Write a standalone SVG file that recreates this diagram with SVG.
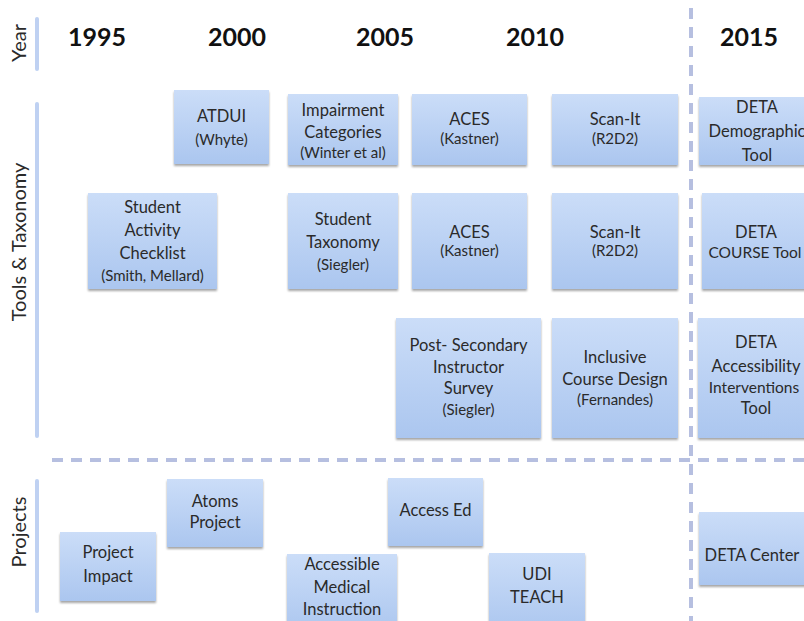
<svg xmlns="http://www.w3.org/2000/svg" width="804" height="621" viewBox="0 0 804 621">
<style>
.box{fill:url(#g);filter:url(#sh)}
.t{font-family:Lato,"Liberation Sans",sans-serif;font-size:16.5px;fill:#2a2a2a;text-anchor:middle}
.s{font-size:15px}
.n{font-size:15.5px}
.yr{font-family:Lato,"Liberation Sans",sans-serif;font-size:25px;font-weight:bold;fill:#111;text-anchor:middle}
.ax{font-family:Lato,"Liberation Sans",sans-serif;font-size:20px;fill:#2a2a2a;text-anchor:middle}
.axl{stroke:#bfd1f2;stroke-width:4;stroke-linecap:round}
.dash{stroke:#b6bfe0;stroke-width:4;stroke-dasharray:11 8;fill:none}
</style>
<defs>
<linearGradient id="g" x1="0" y1="0" x2="0" y2="1">
<stop offset="0" stop-color="#cbddf8"/>
<stop offset="1" stop-color="#abc6ef"/>
</linearGradient>
<filter id="sh" x="-10%" y="-10%" width="120%" height="130%">
<feDropShadow dx="0" dy="2" stdDeviation="1.2" flood-color="#000" flood-opacity="0.35"/>
</filter>
</defs>
<rect width="804" height="621" fill="#fff"/>

<g id="axes">
<line class="axl" x1="37" y1="19" x2="37" y2="69"/>
<line class="axl" x1="37" y1="104" x2="37" y2="436"/>
<line class="axl" x1="37" y1="481" x2="37" y2="611"/>
<text class="ax" transform="translate(26,43) rotate(-90)">Year</text>
<text class="ax" transform="translate(26,242) rotate(-90)">Tools &amp; Taxonomy</text>
<text class="ax" transform="translate(26,532) rotate(-90)">Projects</text>
</g>

<g id="years">
<text class="yr" x="97" y="46">1995</text>
<text class="yr" x="237" y="46">2000</text>
<text class="yr" x="385" y="46">2005</text>
<text class="yr" x="535" y="46">2010</text>
<text class="yr" x="749" y="46">2015</text>
</g>

<g id="connectors">
<line class="dash" x1="52" y1="460" x2="804" y2="460"/>
<line class="dash" x1="691" y1="8" x2="691" y2="621"/>
</g>

<g id="atdui"><rect class="box" x="174" y="90" width="95" height="74"/>
<text class="t" x="221.5" y="122">ATDUI</text><text class="t s" x="221.5" y="145">(Whyte)</text></g>
<g id="impairment"><rect class="box" x="288" y="94" width="110" height="71"/>
<text class="t" x="343" y="116">Impairment</text><text class="t" x="343" y="138">Categories</text><text class="t s" x="343" y="158">(Winter et al)</text></g>
<g id="aces1"><rect class="box" x="412" y="94" width="115" height="71"/>
<text class="t" x="469.5" y="125">ACES</text><text class="t s" x="469.5" y="144">(Kastner)</text></g>
<g id="scanit1"><rect class="box" x="552" y="94" width="126" height="71"/>
<text class="t" x="615" y="125">Scan-It</text><text class="t s" x="615" y="144">(R2D2)</text></g>
<g id="deta-demographic"><rect class="box" x="699" y="97" width="115" height="68"/>
<text class="t" x="757" y="113">DETA</text><text class="t" x="757" y="137">Demographic</text><text class="t" x="757" y="161">Tool</text></g>

<g id="student-activity"><rect class="box" x="88" y="193" width="129" height="96"/>
<text class="t" x="152.5" y="213">Student</text><text class="t" x="152.5" y="236">Activity</text><text class="t" x="152.5" y="259">Checklist</text><text class="t s" x="152.5" y="281">(Smith, Mellard)</text></g>
<g id="student-taxonomy"><rect class="box" x="288" y="193" width="110" height="96"/>
<text class="t" x="343" y="225">Student</text><text class="t" x="343" y="248">Taxonomy</text><text class="t s" x="343" y="270">(Siegler)</text></g>
<g id="aces2"><rect class="box" x="412" y="193" width="115" height="96"/>
<text class="t" x="469.5" y="238">ACES</text><text class="t s" x="469.5" y="256">(Kastner)</text></g>
<g id="scanit2"><rect class="box" x="552" y="193" width="126" height="96"/>
<text class="t" x="615" y="238">Scan-It</text><text class="t s" x="615" y="256">(R2D2)</text></g>
<g id="deta-course"><rect class="box" x="702" y="193" width="112" height="96"/>
<text class="t" x="756" y="238">DETA</text><text class="t n" x="755" y="258">COURSE Tool</text></g>

<g id="post-secondary"><rect class="box" x="396" y="318" width="145" height="120"/>
<text class="t" x="468.5" y="351">Post- Secondary</text><text class="t" x="468.5" y="373">Instructor</text><text class="t" x="468.5" y="394">Survey</text><text class="t s" x="468.5" y="415">(Siegler)</text></g>
<g id="inclusive"><rect class="box" x="552" y="318" width="126" height="120"/>
<text class="t" x="615" y="363">Inclusive</text><text class="t" x="615" y="385">Course Design</text><text class="t s" x="615" y="405">(Fernandes)</text></g>
<g id="deta-accessibility"><rect class="box" x="698" y="318" width="116" height="120"/>
<text class="t" x="756" y="348">DETA</text><text class="t" x="756" y="372">Accessibility</text><text class="t n" x="754" y="393">Interventions</text><text class="t" x="756" y="414">Tool</text></g>

<g id="project-impact"><rect class="box" x="60" y="532" width="96" height="69"/>
<text class="t" x="108" y="558">Project</text><text class="t" x="108" y="582">Impact</text></g>
<g id="atoms"><rect class="box" x="167" y="479" width="96" height="68"/>
<text class="t" x="215" y="507">Atoms</text><text class="t" x="215" y="528">Project</text></g>
<g id="accessible-medical"><rect class="box" x="287" y="554" width="110" height="80"/>
<text class="t" x="342" y="570">Accessible</text><text class="t" x="342" y="593">Medical</text><text class="t" x="342" y="615">Instruction</text></g>
<g id="access-ed"><rect class="box" x="388" y="478" width="95" height="68"/>
<text class="t" x="435.5" y="516">Access Ed</text></g>
<g id="udi-teach"><rect class="box" x="489" y="553" width="96" height="80"/>
<text class="t" x="537" y="580">UDI</text><text class="t" x="537" y="603">TEACH</text></g>
<g id="deta-center"><rect class="box" x="699" y="512" width="115" height="73"/>
<text class="t" x="752" y="561">DETA Center</text></g>
</svg>
